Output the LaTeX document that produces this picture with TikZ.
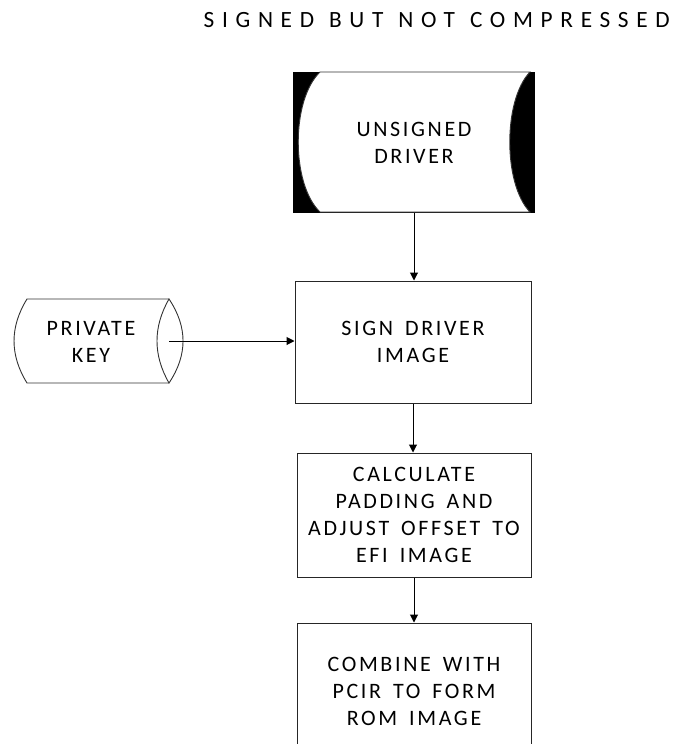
\documentclass[tikz,border=0pt]{standalone}
\usepackage{fontspec}
\setmainfont{Carlito}
\newfontfamily\boxfont[LetterSpace=12]{Carlito}
\newfontfamily\titlefont[LetterSpace=33]{Carlito}
\newcommand\boxfontset{\boxfont\fontsize{22}{27}\selectfont\spaceskip=12pt plus 1pt\relax}
\newcommand\titlefontset{\titlefont\fontsize{23.3}{28}\selectfont\spaceskip=15pt plus 1pt\relax}
\usetikzlibrary{arrows.meta}
\tikzset{
  lbl/.style={align=center, font=\titlefontset, inner sep=0pt},
  procbox/.style={draw=black!85, line width=1pt, align=center, font=\boxfontset, inner sep=0pt},
  ghost/.style={inner sep=0pt, align=center, font=\boxfontset},
  arr/.style={draw=black, line width=1pt, -{Triangle[width=8pt,length=8pt]}},
  shapeline/.style={draw=black!80, line width=0.9pt}
}
\begin{document}
\begin{tikzpicture}[x=1pt,y=-1pt]
\useasboundingbox (0,0) rectangle (674,744);
% title
\node[lbl, anchor=east] (title) at (670,20) {SIGNED BUT NOT COMPRESSED};
% unsigned driver (stored data on black background)
\fill[black] (293,72) rectangle (535,213);
\filldraw[fill=white, shapeline] (320,72) -- (530,72) .. controls (503,100) and (503,184) .. (530,212) -- (320,212) .. controls (291,184) and (291,100) .. (320,72) -- cycle;
\node[ghost, minimum width=242, minimum height=141] (unsigned) at (414,142.5) {UNSIGNED\\DRIVER};
% private key
\draw[shapeline] (169,299) -- (27,299) .. controls (9.7,327) and (9.7,355) .. (27,383) -- (169,383);
\draw[shapeline] (169,299) .. controls (187.7,327) and (187.7,355) .. (169,383) .. controls (153,355) and (153,327) .. (169,299) -- cycle;
\node[ghost] (key) at (91,342) {PRIVATE\\KEY};
\coordinate (keyc) at (169,341);
% process boxes
\node[procbox, minimum width=236, minimum height=122] (sign) at (413,342) {SIGN DRIVER\\IMAGE};
\node[procbox, minimum width=234, minimum height=124] (calc) at (414,515) {CALCULATE\\PADDING AND\\ADJUST OFFSET TO\\EFI IMAGE};
\node[procbox, minimum width=234, minimum height=136] (comb) at (414,691) {COMBINE WITH\\PCIR TO FORM\\ROM IMAGE};
% connectors
\draw[arr] (unsigned.south) -- (unsigned.south |- sign.north);
\draw[arr] (keyc) -- (keyc -| sign.west);
\draw[arr] (sign.south) -- (sign.south |- calc.north);
\draw[arr] (calc.south) -- (calc.south |- comb.north);
\end{tikzpicture}
\end{document}
